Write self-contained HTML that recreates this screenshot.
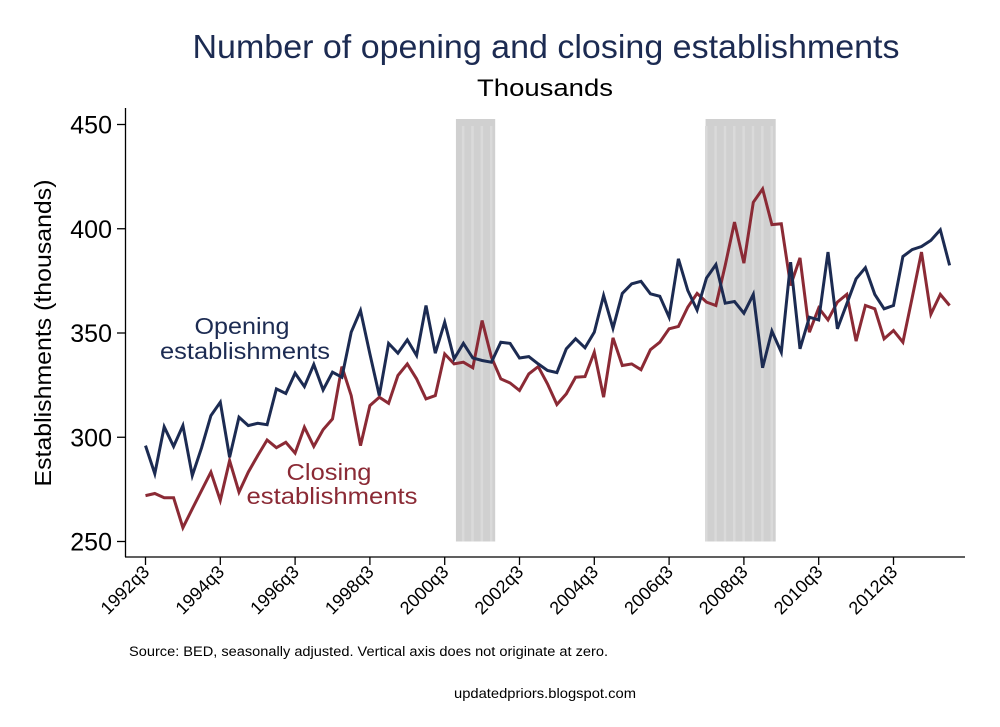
<!DOCTYPE html>
<html><head><meta charset="utf-8"><style>
body{margin:0;background:#fff;}
svg{display:block;font-family:"Liberation Sans",Arial,sans-serif;}
</style></head><body>
<svg id="chart" width="1000" height="727" viewBox="0 0 1000 727" xmlns="http://www.w3.org/2000/svg">
<rect width="1000" height="727" fill="#fff"/>
<text x="546" y="58" text-anchor="middle" font-size="33" fill="#1c2b52" textLength="707" lengthAdjust="spacingAndGlyphs">Number of opening and closing establishments</text>
<text x="545" y="96" text-anchor="middle" font-size="24" fill="#000" textLength="136" lengthAdjust="spacingAndGlyphs">Thousands</text>
<g id="recessions"></g>
<g id="series"></g>
<line x1="125.5" y1="108" x2="125.5" y2="557" stroke="#000" stroke-width="1.3"/>
<line x1="125" y1="557" x2="965" y2="557" stroke="#000" stroke-width="1.3"/>
<g id="yticks"></g>
<g id="xticks"></g>
<text transform="translate(51,333) rotate(-90)" text-anchor="middle" font-size="23" fill="#000" textLength="307" lengthAdjust="spacingAndGlyphs">Establishments (thousands)</text>
<text x="242" y="334" text-anchor="middle" font-size="23" fill="#1c2b52" textLength="95" lengthAdjust="spacingAndGlyphs">Opening</text>
<text x="245" y="359" text-anchor="middle" font-size="23" fill="#1c2b52" textLength="170" lengthAdjust="spacingAndGlyphs">establishments</text>
<text x="329" y="480" text-anchor="middle" font-size="23" fill="#8b2a35" textLength="85" lengthAdjust="spacingAndGlyphs">Closing</text>
<text x="332" y="504" text-anchor="middle" font-size="23" fill="#8b2a35" textLength="171" lengthAdjust="spacingAndGlyphs">establishments</text>
<text x="129" y="656" font-size="13.5" fill="#000" textLength="479" lengthAdjust="spacingAndGlyphs">Source: BED, seasonally adjusted. Vertical axis does not originate at zero.</text>
<text x="545" y="698" text-anchor="middle" font-size="14" fill="#000" textLength="182" lengthAdjust="spacingAndGlyphs">updatedpriors.blogspot.com</text>
</svg>
<script>
const opening = [296,282.5,305,295.6,305.6,281.6,295,310.4,316.8,290.4,309.6,305.6,306.7,306,323.2,321,330.7,324.3,334.9,322.7,331.2,328.8,350.4,360.8,340,320,345,340.3,346.7,339.2,363.2,340.3,355.2,337.6,345,338,336.8,336,345.6,345,338,338.7,335.2,332,331,342.4,347.2,342.9,350.4,368,352.3,369,373.6,374.8,368.8,367.6,357.6,385.6,370.4,361,376.4,382.8,364.3,365.1,359.5,368.5,333.3,350.9,340.8,384,342.4,357.6,356.3,388.8,352,364,376,381.3,368.5,361.6,363.2,386.7,390,391.5,394.4,399.5,382.4];
const closing = [272,273,271,271,256.6,265.7,274.5,283.3,269.7,288.8,273.7,283.3,291.2,298.7,295,297.6,292.4,304.8,295.6,303.6,308.8,333.9,320,296,315.2,319.2,316.3,329.6,335.2,328,318.4,320,340,335.2,336,333.3,356,338.4,328,326,322.4,330.4,333.9,325.6,315.7,320.8,328.8,329.1,340.8,319.2,347.7,334.4,335.2,332.4,342,345.6,352,353.1,362.4,369,364.8,363.2,382.4,403.2,383.5,412.7,419.1,402,402.4,372.8,386,350.4,362,356.3,364.8,368.5,346.1,363.2,361.6,347.2,351.2,345.6,367,388.8,359,368.5,363.2];
const yTicks = [250,300,350,400,450];
const xTickLabels = ["1992q3","1994q3","1996q3","1998q3","2000q3","2002q3","2004q3","2006q3","2008q3","2010q3","2012q3"];
const xTickIndex = [0,8,16,24,32,40,48,56,64,72,80];
const recessionStart = [33.2,59.9];
const recessionEnd = [37.4,67.4];

const NS = "http://www.w3.org/2000/svg";
const xs = i => 145.5 + i * 9.35;
const ys = v => 541.5 - (v - 250) * 2.085;
function mk(tag, attrs, parent){const e=document.createElementNS(NS,tag);for(const k in attrs)e.setAttribute(k,attrs[k]);parent.appendChild(e);return e;}

const rg = document.getElementById('recessions');
for (let r = 0; r < recessionStart.length; r++) {
  const x0 = xs(recessionStart[r]), x1 = xs(recessionEnd[r]);
  const rect = mk('rect', {x:x0, y:119, width:x1-x0, height:ys(250)-119, fill:'#d0d0d0'}, rg);
  
  
  for (let q = Math.ceil(recessionStart[r]); q < recessionEnd[r]; q++) {
    const s = mk('rect', {x:xs(q)-1.5, y:126, width:2.5, height:ys(250)-126, fill:'#dadada'}, rg);
    
    
  }
}

const sg = document.getElementById('series');
function line(data, color, name){
  const d = data.map((v,i)=>(i?'L':'M')+xs(i).toFixed(1)+','+ys(v).toFixed(1)).join('');
  const p = mk('path', {d:d, fill:'none', stroke:color, 'stroke-width':3, 'stroke-linejoin':'miter'}, sg);
  
  
}
line(closing, '#8b2a35', 'closing-line');
line(opening, '#1c2b52', 'opening-line');

const yt = document.getElementById('yticks');
yTicks.forEach(v => {
  const l = mk('line', {x1:117, x2:125, y1:ys(v), y2:ys(v), stroke:'#000', 'stroke-width':1.3}, yt);
  
  
  const t = mk('text', {x:112, y:ys(v)+9, 'text-anchor':'end', 'font-size':25, fill:'#000'}, yt);
  t.textContent = v;
  
  
});
const xt = document.getElementById('xticks');
xTickLabels.forEach((lab, k) => {
  const x = xs(xTickIndex[k]);
  const l = mk('line', {x1:x, x2:x, y1:557, y2:565, stroke:'#000', 'stroke-width':1.3}, xt);
  
  
  const t = mk('text', {transform:'translate('+(x+5)+',573) rotate(-45)', 'text-anchor':'end', 'font-size':18, fill:'#000'}, xt);
  t.textContent = lab;
  
  
});
</script>
</body></html>
